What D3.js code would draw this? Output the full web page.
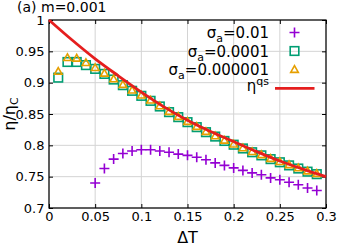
<!DOCTYPE html>
<html><head><meta charset="utf-8">
<script src="https://cdn.jsdelivr.net/npm/d3@7"></script>
<style>
body{margin:0;background:#fff}
svg{display:block}
text{font-family:"DejaVu Sans",sans-serif;fill:#000}
</style>
</head><body>
<svg id="c" width="338" height="247"></svg>
<script>
// ---- data ----
const dT = [0.01,0.02,0.03,0.04,0.05,0.06,0.07,0.08,0.09,0.10,0.11,0.12,0.13,0.14,0.15,0.16,0.17,0.18,0.19,0.20,0.21,0.22,0.23,0.24,0.25,0.26,0.27,0.28,0.29];
const eta_s0001 = [0.908,0.933,0.933,0.928,0.922,0.914,0.905,0.896,0.887,0.879,0.871,0.862,0.853,0.845,0.837,0.829,0.821,0.814,0.807,0.801,0.795,0.789,0.784,0.778,0.773,0.768,0.763,0.758,0.754];
const eta_s000001 = [0.918,0.940,0.939,0.932,0.924,0.915,0.906,0.897,0.888,0.880,0.872,0.863,0.854,0.846,0.838,0.830,0.822,0.815,0.808,0.802,0.796,0.790,0.785,0.779,0.774,0.769,0.764,0.759,0.755];
const dT_s001 = [0.05,0.06,0.07,0.08,0.09,0.10,0.11,0.12,0.13,0.14,0.15,0.16,0.17,0.18,0.19,0.20,0.21,0.22,0.23,0.24,0.25,0.26,0.27,0.28,0.29];
const eta_s001 = [0.740,0.763,0.778,0.787,0.791,0.793,0.793,0.791,0.789,0.786,0.784,0.781,0.777,0.772,0.768,0.764,0.760,0.756,0.753,0.748,0.745,0.741,0.737,0.732,0.728];
const dT_qs = [0,0.025,0.05,0.075,0.1,0.125,0.15,0.175,0.2,0.225,0.25,0.275,0.3];
const eta_qs = [1.000,0.968,0.938,0.911,0.885,0.861,0.840,0.822,0.806,0.790,0.775,0.762,0.750];
const xTicks = [0,0.05,0.1,0.15,0.2,0.25,0.3];
const xTickLabels = ["0","0.05","0.1","0.15","0.2","0.25","0.3"];
const yTicks = [0.7,0.75,0.8,0.85,0.9,0.95,1];
const yTickLabels = ["0.7","0.75","0.8","0.85","0.9","0.95","1"];
const legendLabels = [["σ","a","=0.01"],["σ","a","=0.0001"],["σ","a","=0.000001"]];

// ---- chart ----
const C = {purple:"#9400d3", green:"#009e73", orange:"#e69f00", red:"#e51e1e", grid:"#d4d4d4"};
const L=49, R=326, T=20, B=208;
const svg = d3.select("#c");
const x = d3.scaleLinear().domain([0,0.3]).range([L,R]);
const y = d3.scaleLinear().domain([0.7,1]).range([B,T]);

// grid
const g = svg.append("g");
g.selectAll("line.gx").data(xTicks).join("line")
  .attr("x1",d=>x(d)).attr("x2",d=>x(d)).attr("y1",T).attr("y2",B)
  .attr("stroke",C.grid).attr("stroke-width",1);
g.selectAll("line.gy").data(yTicks).join("line")
  .attr("y1",d=>y(d)).attr("y2",d=>y(d)).attr("x1",L).attr("x2",R)
  .attr("stroke",C.grid).attr("stroke-width",1);

// axes
const fmtX = d => xTickLabels[xTicks.indexOf(d)];
const fmtY = d => yTickLabels[yTicks.indexOf(d)];
const ax = svg.append("g").attr("transform",`translate(0,${B})`)
  .call(d3.axisBottom(x).tickValues(xTicks).tickFormat(fmtX).tickSize(-4).tickPadding(4));
const ay = svg.append("g").attr("transform",`translate(${L},0)`)
  .call(d3.axisLeft(y).tickValues(yTicks).tickFormat(fmtY).tickSize(-4).tickPadding(4.5));
const at = svg.append("g").attr("transform",`translate(0,${T})`)
  .call(d3.axisTop(x).tickValues(xTicks).tickFormat("").tickSize(-4));
const ar = svg.append("g").attr("transform",`translate(${R},0)`)
  .call(d3.axisRight(y).tickValues(yTicks).tickFormat("").tickSize(-4));
[ax,ay,at,ar].forEach(a=>{
  a.select(".domain").remove();
  a.selectAll("line").attr("stroke","#000").attr("stroke-width",1);
  a.selectAll("text").attr("font-size",13).attr("font-family","DejaVu Sans, sans-serif");
});
svg.append("rect").attr("x",L).attr("y",T).attr("width",R-L).attr("height",B-T)
  .attr("fill","none").attr("stroke","#000").attr("stroke-width",1.2);

// series: crosses
const cs = 5;
const crossG = svg.append("g").attr("stroke",C.purple).attr("stroke-width",1.6);
dT_s001.forEach((d,i)=>{
  const cx=x(d), cy=y(eta_s001[i]);
  crossG.append("path").attr("d",`M${cx-cs},${cy}H${cx+cs}M${cx},${cy-cs}V${cy+cs}`);
});
// squares
const sq = 4.3;
svg.append("g").selectAll("rect").data(dT).join("rect")
  .attr("x",d=>x(d)-sq).attr("y",(d,i)=>y(eta_s0001[i])-sq)
  .attr("width",2*sq).attr("height",2*sq)
  .attr("fill","none").attr("stroke",C.green).attr("stroke-width",1.6);
// triangles
const tr = 3.8;
svg.append("g").selectAll("path").data(dT).join("path")
  .attr("d",(d,i)=>{const cx=x(d), cy=y(eta_s000001[i]);
    return `M${cx},${cy-tr}L${cx+tr},${cy+tr*0.75}L${cx-tr},${cy+tr*0.75}Z`;})
  .attr("fill","none").attr("stroke",C.orange).attr("stroke-width",1.6);
// eta_qs line
const line = d3.line().x(d=>x(d[0])).y(d=>y(d[1])).curve(d3.curveMonotoneX);
svg.append("path").datum(dT_qs.map((d,i)=>[d,eta_qs[i]]))
  .attr("d",line).attr("fill","none").attr("stroke",C.red).attr("stroke-width",2.8);

// legend
const lx = 269, mx = 294.5;
const rows = [32.5, 51, 69.5, 88.3];
legendLabels.forEach((lab,i)=>{
  const t = svg.append("text").attr("x",lx).attr("y",rows[i]+5.5).attr("text-anchor","end").attr("font-size",15);
  t.append("tspan").text(lab[0]);
  t.append("tspan").attr("dy",4).attr("font-size",11).text(lab[1]);
  t.append("tspan").attr("dy",-4).text(lab[2]);
});
{
  const t = svg.append("text").attr("x",lx).attr("y",rows[3]+3).attr("text-anchor","end").attr("font-size",15);
  t.append("tspan").text("η");
  t.append("tspan").attr("dy",-6).attr("font-size",11).text("qs");
}
// legend markers
crossG.append("path").attr("d",`M${mx-cs},${rows[0]}H${mx+cs}M${mx},${rows[0]-cs}V${rows[0]+cs}`);
svg.append("rect").attr("x",mx-sq).attr("y",rows[1]-sq).attr("width",2*sq).attr("height",2*sq)
  .attr("fill","none").attr("stroke",C.green).attr("stroke-width",1.6);
svg.append("path").attr("d",`M${mx},${rows[2]-tr}L${mx+tr},${rows[2]+tr*0.75}L${mx-tr},${rows[2]+tr*0.75}Z`)
  .attr("fill","none").attr("stroke",C.orange).attr("stroke-width",1.6);
svg.append("line").attr("x1",275).attr("x2",314.5).attr("y1",rows[3]).attr("y2",rows[3])
  .attr("stroke",C.red).attr("stroke-width",2.8);

// titles
svg.append("text").attr("x",17).attr("y",12).attr("font-size",14).text("(a)");
svg.append("text").attr("x",41).attr("y",12).attr("font-size",14).text("m=0.001");
svg.append("text").attr("x",(L+R)/2).attr("y",243).attr("text-anchor","middle").attr("font-size",16).text("ΔT");
const yl = svg.append("text").attr("transform",`translate(15,${(T+B)/2}) rotate(-90)`).attr("text-anchor","middle").attr("font-size",16);
yl.append("tspan").text("η/η");
yl.append("tspan").attr("dy",3).attr("font-size",11).text("C");
</script>
</body></html>
